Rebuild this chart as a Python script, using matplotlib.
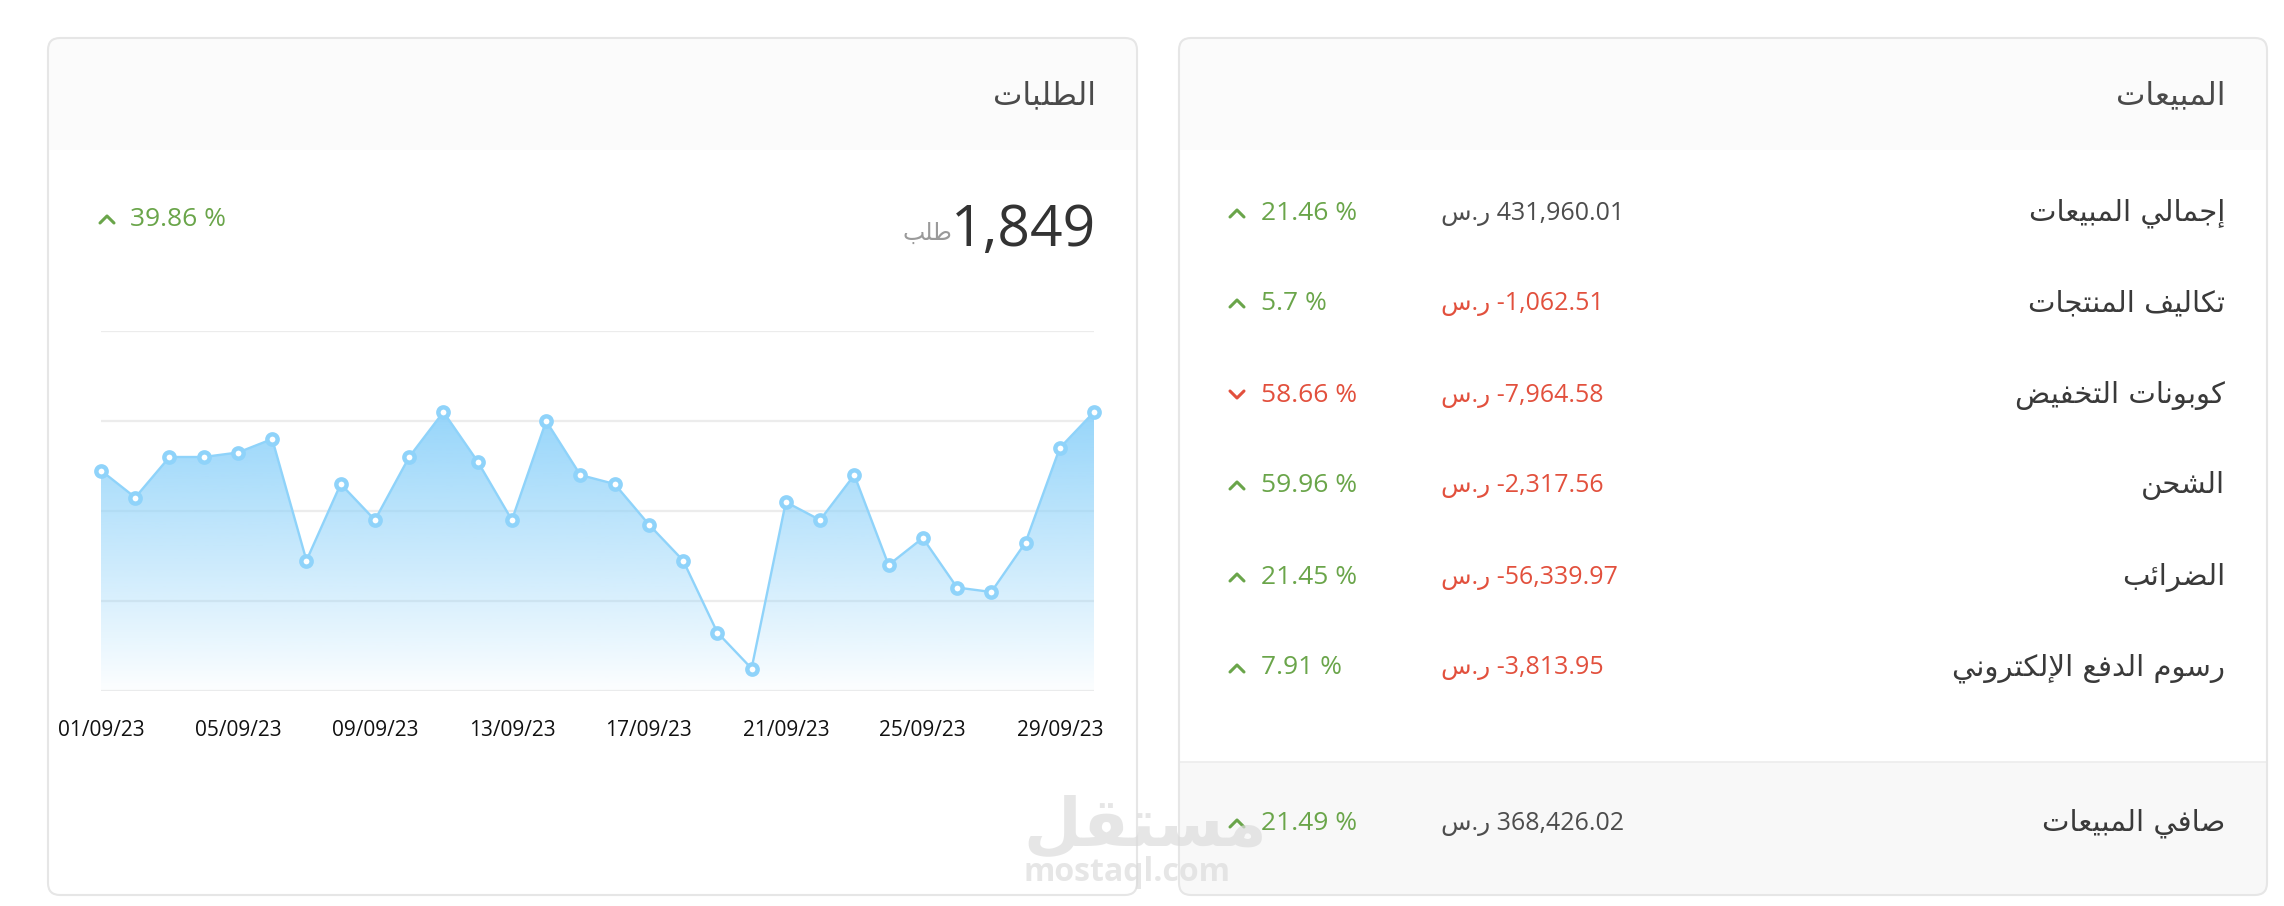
import numpy as np
import matplotlib
matplotlib.use("Agg")
import matplotlib.pyplot as plt
from matplotlib.patches import FancyBboxPatch, Rectangle
from matplotlib.colors import to_rgb

# --------- data ---------- #
dates = ["%02d/09/23" % d for d in range(1, 31)]
orders = [69, 63, 72, 72, 73, 76, 49, 66, 58, 72, 82, 71, 58, 80, 68,
          66, 57, 49, 33, 25, 62, 58, 68, 48, 54, 43, 42, 53, 74, 82]
orders_total = "1,849"
orders_change = "39.86 %"

sales_labels = ["إجمالي المبيعات", "تكاليف المنتجات", "كوبونات التخفيض",
                "الشحن", "الضرائب", "رسوم الدفع الإلكتروني"]
sales_values = ["431,960.01", "-1,062.51", "-7,964.58",
                "-2,317.56", "-56,339.97", "-3,813.95"]
sales_change = ["21.46 %", "5.7 %", "58.66 %", "59.96 %", "21.45 %", "7.91 %"]
sales_up = [True, True, False, True, True, True]
net_label = "صافي المبيعات"
net_value = "368,426.02"
net_change = "21.49 %"

# --------- arabic shaping (matplotlib has no RTL / joining) ---------- #
DUAL = {'ئ': 0xFE89, 'ب': 0xFE8F, 'ت': 0xFE95, 'ث': 0xFE99, 'ج': 0xFE9D,
        'ح': 0xFEA1, 'خ': 0xFEA5, 'س': 0xFEB1, 'ش': 0xFEB5, 'ص': 0xFEB9,
        'ض': 0xFEBD, 'ط': 0xFEC1, 'ظ': 0xFEC5, 'ع': 0xFEC9, 'غ': 0xFECD,
        'ف': 0xFED1, 'ق': 0xFED5, 'ك': 0xFED9, 'ل': 0xFEDD, 'م': 0xFEE1,
        'ن': 0xFEE5, 'ه': 0xFEE9, 'ي': 0xFEF1}
RIGHT = {'آ': 0xFE81, 'أ': 0xFE83, 'ؤ': 0xFE85, 'إ': 0xFE87, 'ا': 0xFE8D,
         'ة': 0xFE93, 'د': 0xFEA9, 'ذ': 0xFEAB, 'ر': 0xFEAD, 'ز': 0xFEAF,
         'و': 0xFEED, 'ى': 0xFEEF}
LAMALEF = {'آ': 0xFEF5, 'أ': 0xFEF7, 'إ': 0xFEF9, 'ا': 0xFEFB}


def ar(word):
    items = []
    i = 0
    while i < len(word):
        c = word[i]
        if c == 'ل' and i + 1 < len(word) and word[i + 1] in LAMALEF:
            items.append(('LA', LAMALEF[word[i + 1]]))
            i += 2
        else:
            items.append((c, None))
            i += 1
    out = []
    for k, (c, code) in enumerate(items):
        p = k > 0 and items[k - 1][0] in DUAL
        n = k + 1 < len(items) and (items[k + 1][0] in DUAL or items[k + 1][0] in RIGHT
                                    or items[k + 1][0] == 'LA')
        if c == 'LA':
            out.append(chr(code + (1 if p else 0)))
        elif c in DUAL:
            b = DUAL[c]
            out.append(chr(b + 3 if (p and n) else b + 1 if p else b + 2 if n else b))
        elif c in RIGHT:
            out.append(chr(RIGHT[c] + (1 if p else 0)))
        else:
            out.append(c)
    return ''.join(reversed(out))


# --------- figure ---------- #
W, H = 2284, 906
fig = plt.figure(figsize=(W / 100, H / 100), dpi=100)
fig.patch.set_facecolor('white')
bg = fig.add_axes([0, 0, 1, 1])
bg.set_xlim(0, W)
bg.set_ylim(H, 0)
bg.axis('off')

LAT = ['Open Sans', 'DejaVu Sans']
ARB = ['DejaVu Sans']
GREEN = '#6aa54a'
RED = '#e2503d'
DARK = '#3a3a3a'
CUR = ar('ر.س')


def card(x0, y0, x1, y1, head_y, foot_y=None):
    r = 12
    box = FancyBboxPatch((x0 + r, y0 + r), x1 - x0 - 2 * r, y1 - y0 - 2 * r,
                         boxstyle="round,pad=%d,rounding_size=%d" % (r, r),
                         fc='white', ec='none', zorder=1)
    bg.add_patch(box)
    hd = Rectangle((x0, y0), x1 - x0, head_y - y0, fc='#fbfbfb', ec='none', zorder=2)
    bg.add_patch(hd)
    hd.set_clip_path(box)
    if foot_y is not None:
        ft = Rectangle((x0, foot_y), x1 - x0, y1 - foot_y, fc='#f8f8f8', ec='none', zorder=2)
        bg.add_patch(ft)
        ft.set_clip_path(box)
        bg.plot([x0, x1], [foot_y, foot_y], color='#ececec', lw=1.2, zorder=3)
    bg.add_patch(FancyBboxPatch((x0 + r, y0 + r), x1 - x0 - 2 * r, y1 - y0 - 2 * r,
                                boxstyle="round,pad=%d,rounding_size=%d" % (r, r),
                                fc='none', ec='#e6e6e6', lw=1.5, zorder=4))


def chevron(x, y, up, color):
    if up:
        bg.plot([x, x + 7, x + 14], [y + 4, y - 3, y + 4], color=color, lw=2.2,
                solid_capstyle='round', solid_joinstyle='round', zorder=5)
    else:
        bg.plot([x, x + 7, x + 14], [y - 4, y + 3, y - 4], color=color, lw=2.2,
                solid_capstyle='round', solid_joinstyle='round', zorder=5)


card(48, 38, 1137, 895, 150)
card(1179, 38, 2267, 895, 150, 762)

# --------- left card: orders ---------- #
bg.text(1096, 96, ar('الطلبات'), family=ARB, fontsize=22.5, color='#4a4a4a',
        ha='right', va='center', zorder=6)
bg.text(1096, 246, orders_total, family=LAT, fontsize=41, color='#333333',
        ha='right', va='baseline', zorder=6)
bg.text(952, 240, ar('طلب'), family=ARB, fontsize=17, color='#9a9a9a',
        ha='right', va='baseline', zorder=6)
chevron(100, 219, True, GREEN)
bg.text(130, 219, orders_change, family=LAT, fontsize=19, color=GREEN,
        ha='left', va='center', zorder=6)

ax = fig.add_axes([101 / W, 1 - 691 / H, (1094 - 101) / W, (691 - 331) / H])
ax.set_facecolor('none')
x = np.arange(len(orders))
ax.set_yticks([20, 40, 60, 80, 100])
ax.yaxis.grid(True, color='#ececec', lw=1.6)
ax.set_axisbelow(True)
ax.tick_params(axis='y', length=0, labelleft=False)
ax.set_xticks(x[::4])
ax.set_xticklabels(dates[::4], family=LAT, fontsize=15, color='#111111')
ax.tick_params(axis='x', length=0, pad=21)
for s in ax.spines.values():
    s.set_visible(False)

line_c = '#8fd3fa'
poly = ax.fill_between(x, orders, 20, color='none', lw=0)
grad = np.zeros((256, 1, 4))
grad[:, 0, :3] = to_rgb('#8ed2fa')
t = np.linspace(0, 1, 256)[:, None]
grad[:, :, 3] = 0.02 + 0.9 * t ** 0.95
im = ax.imshow(grad, extent=[0, len(orders) - 1, 20, max(orders)], origin='lower',
               aspect='auto', zorder=1)
im.set_clip_path(poly.get_paths()[0], transform=ax.transData)
ax.set_xlim(0, len(orders) - 1)
ax.set_ylim(20, 100)
ax.plot(x, orders, color=line_c, lw=1.7, zorder=2, clip_on=False)
ax.plot(x, orders, 'o', ms=7.4, mfc='white', mec=line_c, mew=3.2, zorder=3, clip_on=False)

# --------- right card: sales ---------- #
bg.text(2225, 96, ar('المبيعات'), family=ARB, fontsize=22.5, color='#4a4a4a',
        ha='right', va='center', zorder=6)
row_y = [213, 303, 395, 485, 577, 668]
for i in range(len(sales_labels)):
    y = row_y[i]
    bg.text(2225, y, ar(sales_labels[i]), family=ARB, fontsize=21, color=DARK,
            ha='right', va='center', zorder=6)
    vc = '#4d4d4d' if not sales_values[i].startswith('-') else RED
    bg.text(1441, y, CUR + ' ' + sales_values[i], family=LAT, fontsize=18,
            color=vc, ha='left', va='center', zorder=6)
    pc = GREEN if sales_up[i] else RED
    chevron(1230, y, sales_up[i], pc)
    bg.text(1261, y, sales_change[i], family=LAT, fontsize=19, color=pc,
            ha='left', va='center', zorder=6)

bg.text(2225, 823, ar(net_label), family=ARB, fontsize=21, color=DARK,
        ha='right', va='center', zorder=6)
bg.text(1441, 823, CUR + ' ' + net_value, family=LAT, fontsize=18,
        color='#4d4d4d', ha='left', va='center', zorder=6)
chevron(1230, 823, True, GREEN)
bg.text(1261, 823, net_change, family=LAT, fontsize=19, color=GREEN,
        ha='left', va='center', zorder=6)

# watermark
fig.text(1023 / W, 1 - 846 / H, ar('مستقل'), family=ARB, fontweight='bold',
         fontsize=48, color='#dcdcdc', alpha=0.7, ha='left', va='baseline', zorder=10)
fig.text(1023 / W, 1 - 881 / H, 'mostaql.com', family=LAT, fontweight='bold',
         fontsize=23, color='#dcdcdc', alpha=0.7, ha='left', va='baseline', zorder=10)

fig.savefig('out.png', dpi=100, facecolor='white')
